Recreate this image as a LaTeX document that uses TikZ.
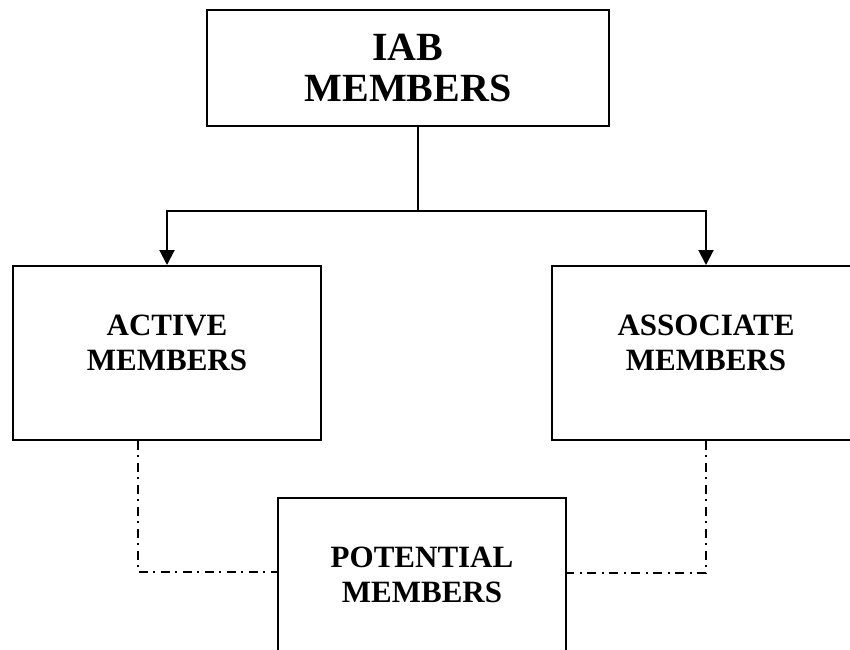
\documentclass[tikz,border=0pt]{standalone}
\usepackage{fontspec}
\setmainfont{Liberation Serif}
\usetikzlibrary{arrows.meta}

\begin{document}
\begin{tikzpicture}[x=1pt,y=-1pt,
  box/.style={draw=black,line width=2pt,rectangle,inner sep=0pt},
  boxtext/.style={align=center,yshift=10pt,font=\fontsize{31}{35}\selectfont\bfseries},
  link/.style={line width=2pt,-{Triangle[width=15pt,length=15pt]}},
  dashdot link/.style={line width=2pt,dash pattern=on 9pt off 5pt on 2pt off 6pt}]
\useasboundingbox (0,0) rectangle (850,649);
\clip (0,0) rectangle (850,649);
\node[box,minimum width=402,minimum height=116,align=center,
  font=\fontsize{40}{41}\selectfont\bfseries] (iab) at (408,68) {IAB\\MEMBERS};
\node[box,minimum width=308,minimum height=174,
  label={[boxtext]center:ACTIVE\\MEMBERS}] (active) at (167,353) {};
\node[box,minimum width=308,minimum height=174,
  label={[boxtext]center:ASSOCIATE\\MEMBERS}] (associate) at (706,353) {};
\node[box,minimum width=288,minimum height=174,
  label={[boxtext]center:POTENTIAL\\MEMBERS}] (potential) at (422,585) {};
\coordinate (split) at (418,211);
\coordinate (lbend) at (138,572);
\coordinate (rbend) at (706,573);
\draw[line width=2pt] (iab.south -| split) -- (split);
\draw[link] (split) -| (active.north);
\draw[link] (split) -| (associate.north);
\draw[dashdot link] (active.south -| lbend) |- (potential.west |- lbend);
\draw[dashdot link] (associate.south) |- (potential.east |- rbend);
\end{tikzpicture}
\end{document}
